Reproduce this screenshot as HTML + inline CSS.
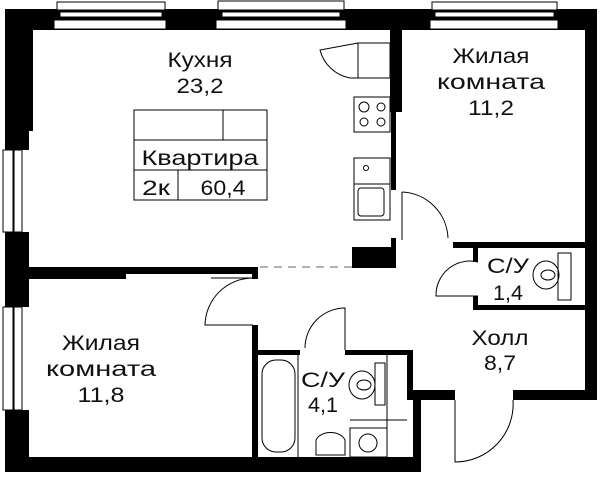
<!DOCTYPE html>
<html><head><meta charset="utf-8"><style>
html,body{margin:0;padding:0;background:#fff;}
svg{display:block;}
text{font-family:"Liberation Sans","DejaVu Sans",sans-serif;font-size:21px;fill:#111;text-anchor:middle;}
</style></head><body>
<svg width="600" height="477" viewBox="0 0 600 477" xmlns="http://www.w3.org/2000/svg">
<g fill="#000">
<rect x="5" y="9" width="592" height="21"/>
<rect x="5" y="9" width="28" height="122"/>
<rect x="5" y="130" width="24" height="20"/>
<rect x="5" y="232" width="24" height="75"/>
<rect x="5" y="410" width="24" height="62"/>
<rect x="5" y="457" width="413" height="15"/>
<rect x="407" y="350" width="6" height="50"/>
<rect x="407" y="390" width="48" height="10"/>
<rect x="413" y="390" width="8" height="82"/>
<rect x="513" y="390" width="84" height="10"/>
<rect x="585" y="9" width="12" height="391"/>
<rect x="390" y="30" width="12" height="82"/>
<rect x="391" y="110" width="5" height="80"/>
<rect x="391" y="238" width="5" height="30"/>
<rect x="352" y="247" width="42" height="21"/>
<rect x="29" y="267" width="97" height="12"/>
<rect x="126" y="267" width="132" height="7"/>
<rect x="252" y="267" width="6" height="12"/>
<rect x="252" y="325" width="6" height="137"/>
<rect x="252" y="350" width="48" height="5"/>
<rect x="345" y="350" width="68" height="5"/>
<rect x="453" y="242" width="144" height="6"/>
<rect x="473" y="245" width="5" height="17"/>
<rect x="473" y="296" width="5" height="14"/>
<rect x="473" y="305" width="113" height="5"/>
</g>
<g fill="#fff" stroke="#000" stroke-width="1">
<rect x="57" y="2" width="108" height="8"/>
<rect x="60" y="12" width="102" height="5"/>
<rect x="54" y="20" width="112" height="9"/>
<rect x="218" y="1" width="126" height="9"/>
<rect x="222" y="12" width="118" height="5"/>
<rect x="216" y="20" width="130" height="9"/>
<rect x="432" y="2" width="125" height="8"/>
<rect x="435" y="12" width="119" height="5"/>
<rect x="430" y="20" width="128" height="9"/>
<rect x="3" y="150" width="10" height="82"/>
<rect x="14" y="150" width="8" height="82"/>
<rect x="3" y="307" width="10" height="103"/>
<rect x="14" y="307" width="8" height="103"/>
</g>
<g fill="none" stroke="#000" stroke-width="1">
<rect x="358" y="43" width="32" height="35"/>
<path d="M358 43 L320 50 A38 38 0 0 0 350 78 L358 78"/>
<rect x="354" y="97" width="36" height="35"/>
<circle cx="364" cy="107" r="5"/><circle cx="381" cy="107" r="4"/>
<circle cx="364" cy="122" r="4"/><circle cx="381" cy="122" r="4"/>
<rect x="354" y="158" width="36" height="62"/>
<line x1="354" y1="184" x2="390" y2="184"/>
<rect x="358" y="188" width="26" height="28" rx="3"/>
<circle cx="366" cy="168" r="2.5"/>
<rect x="134" y="110" width="133" height="90"/>
<line x1="134" y1="140" x2="267" y2="140"/>
<line x1="134" y1="170" x2="267" y2="170"/>
<line x1="223" y1="110" x2="223" y2="140"/>
<line x1="178" y1="170" x2="178" y2="200"/>
<path d="M402 192 L402 240 M402 192 A48 48 0 0 1 448 238"/>
<path d="M253 278 L211 278 M253 325 L205 325 A48 48 0 0 1 253 278"/>
<path d="M345 350 L345 308 A40 40 0 0 0 305 348"/>
<path d="M478 262 A34 34 0 0 0 436 296 L478 296"/>
<path d="M455 400 L455 462 A58 58 0 0 0 513 400"/>
<rect x="558" y="253" width="13" height="47"/>
<ellipse cx="546" cy="275" rx="13" ry="14"/>
<ellipse cx="548" cy="275" rx="7" ry="5"/>
<rect x="262" y="360" width="33" height="92" rx="14"/>
<line x1="298" y1="355" x2="298" y2="457"/>
<line x1="387" y1="355" x2="387" y2="457"/>
<line x1="350" y1="420" x2="407" y2="420"/>
<rect x="375" y="363" width="10" height="42"/>
<ellipse cx="362" cy="385" rx="13" ry="14"/>
<ellipse cx="364" cy="385" rx="7" ry="5"/>
<rect x="350" y="428" width="37" height="29"/>
<circle cx="368" cy="443" r="9"/>
<path d="M316 440 A15 10 0 0 1 345 440 L345 455 L316 455 Z"/>
</g>
<line x1="260" y1="267" x2="352" y2="267" stroke="#999" stroke-width="1.5" stroke-dasharray="8,6"/>
<g>
<text x="200" y="67" textLength="65" lengthAdjust="spacingAndGlyphs">Кухня</text>
<text x="200" y="93" textLength="47" lengthAdjust="spacingAndGlyphs">23,2</text>
<text x="200" y="165" textLength="117" lengthAdjust="spacingAndGlyphs">Квартира</text>
<text x="156" y="195" textLength="28" lengthAdjust="spacingAndGlyphs">2к</text>
<text x="223" y="195" textLength="45" lengthAdjust="spacingAndGlyphs">60,4</text>
<text x="491" y="63" textLength="77" lengthAdjust="spacingAndGlyphs">Жилая</text>
<text x="491" y="89" textLength="108" lengthAdjust="spacingAndGlyphs">комната</text>
<text x="491" y="115" textLength="46" lengthAdjust="spacingAndGlyphs">11,2</text>
<text x="101" y="350" textLength="78" lengthAdjust="spacingAndGlyphs">Жилая</text>
<text x="101" y="376" textLength="110" lengthAdjust="spacingAndGlyphs">комната</text>
<text x="101" y="402" textLength="47" lengthAdjust="spacingAndGlyphs">11,8</text>
<text x="508" y="273" textLength="42" lengthAdjust="spacingAndGlyphs">С/У</text>
<text x="508" y="300" textLength="30" lengthAdjust="spacingAndGlyphs">1,4</text>
<text x="500" y="345" textLength="57" lengthAdjust="spacingAndGlyphs">Холл</text>
<text x="500" y="370" textLength="32" lengthAdjust="spacingAndGlyphs">8,7</text>
<text x="323" y="387" textLength="44" lengthAdjust="spacingAndGlyphs">С/У</text>
<text x="323" y="412" textLength="30" lengthAdjust="spacingAndGlyphs">4,1</text>
</g>
</svg>
</body></html>
